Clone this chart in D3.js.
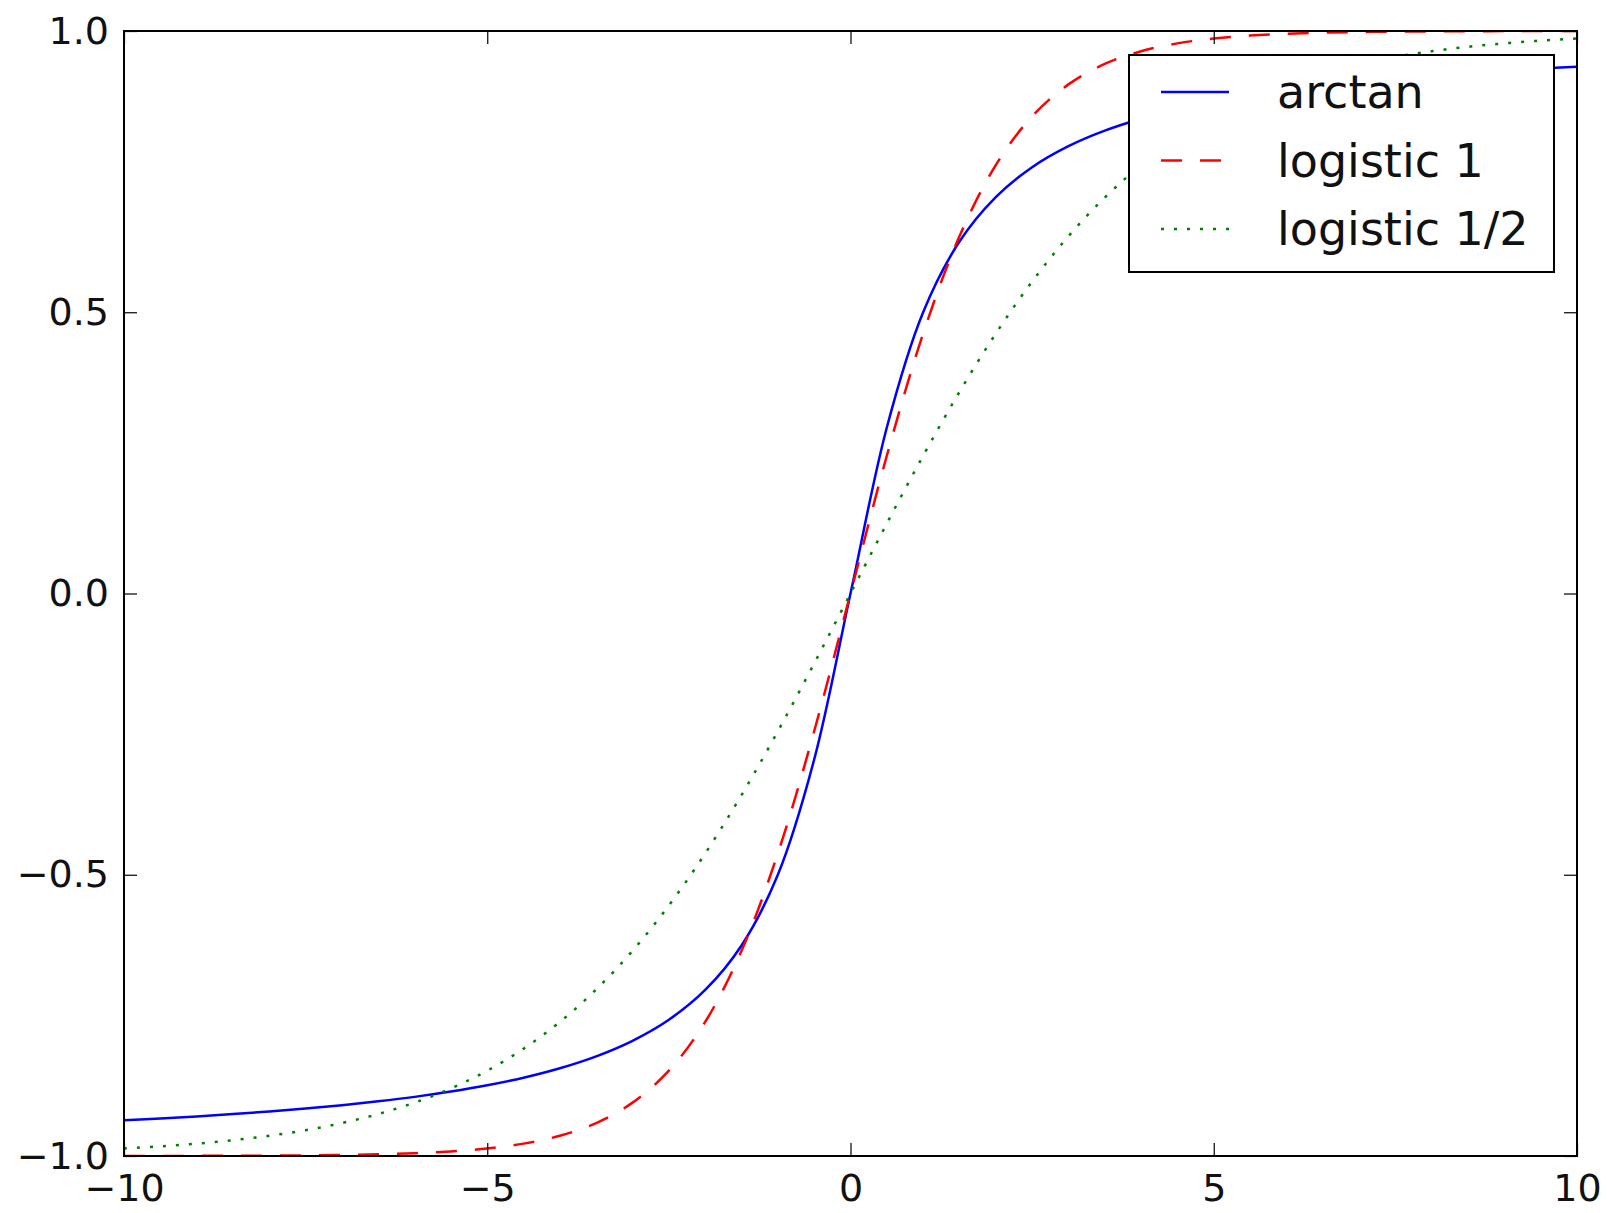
<!DOCTYPE html>
<html>
<head>
<meta charset="utf-8">
<script src="https://cdn.jsdelivr.net/npm/d3@7"></script>
<style>
  body { margin: 0; background: #fff; }
  svg { display: block; font-family: "DejaVu Sans", sans-serif; }
</style>
</head>
<body>
<svg id="chart" width="1607" height="1213"></svg>
<script>
// sample points
var xValues = [-10, -9.5, -9, -8.5, -8, -7.5, -7, -6.5, -6, -5.5, -5, -4.5, -4, -3.5, -3, -2.5, -2, -1.5, -1, -0.5,
  0, 0.5, 1, 1.5, 2, 2.5, 3, 3.5, 4, 4.5, 5, 5.5, 6, 6.5, 7, 7.5, 8, 8.5, 9, 9.5, 10];

var arctanValues = [-0.9365, -0.9332, -0.9296, -0.9254, -0.9208, -0.9156, -0.9097, -0.9028, -0.8949, -0.8855,
  -0.8743, -0.8608, -0.8440, -0.8228, -0.7952, -0.7578, -0.7048, -0.6257, -0.5, -0.2952,
  0, 0.2952, 0.5, 0.6257, 0.7048, 0.7578, 0.7952, 0.8228, 0.8440, 0.8608,
  0.8743, 0.8855, 0.8949, 0.9028, 0.9097, 0.9156, 0.9208, 0.9254, 0.9296, 0.9332, 0.9365];

var logistic1Values = [-0.9999, -0.9999, -0.9998, -0.9996, -0.9993, -0.9989, -0.9982, -0.9970, -0.9951, -0.9919,
  -0.9866, -0.9780, -0.9640, -0.9414, -0.9051, -0.8483, -0.7616, -0.6351, -0.4621, -0.2449,
  0, 0.2449, 0.4621, 0.6351, 0.7616, 0.8483, 0.9051, 0.9414, 0.9640, 0.9780,
  0.9866, 0.9919, 0.9951, 0.9970, 0.9982, 0.9989, 0.9993, 0.9996, 0.9998, 0.9999, 0.9999];

var logistic2Values = [-0.9866, -0.9829, -0.9780, -0.9719, -0.9640, -0.9541, -0.9414, -0.9254, -0.9051, -0.8799,
  -0.8483, -0.8093, -0.7616, -0.7039, -0.6351, -0.5546, -0.4621, -0.3584, -0.2449, -0.1244,
  0, 0.1244, 0.2449, 0.3584, 0.4621, 0.5546, 0.6351, 0.7039, 0.7616, 0.8093,
  0.8483, 0.8799, 0.9051, 0.9254, 0.9414, 0.9541, 0.9640, 0.9719, 0.9780, 0.9829, 0.9866];

var seriesNames = ["arctan", "logistic 1", "logistic 1/2"];
var xTicks = [-10, -5, 0, 5, 10];
var yTicks = [-1.0, -0.5, 0.0, 0.5, 1.0];

var series = [
  {name: seriesNames[0], values: arctanValues, color: "#0000ff", dash: null},
  {name: seriesNames[1], values: logistic1Values, color: "#ff0000", dash: "21,18"},
  {name: seriesNames[2], values: logistic2Values, color: "#008000", dash: "3,10"}
];

var svg = d3.select("#chart");
// plot box edges (window.top is reserved, so use own names)
var plotLeft = 124, plotRight = 1577, plotTop = 31, plotBottom = 1156;

var x = d3.scaleLinear().domain([-10, 10]).range([plotLeft, plotRight]);
var y = d3.scaleLinear().domain([-1, 1]).range([plotBottom, plotTop]);

svg.append("defs").append("clipPath").attr("id", "plotclip")
  .append("rect")
    .attr("x", plotLeft).attr("y", plotTop)
    .attr("width", plotRight - plotLeft).attr("height", plotBottom - plotTop);

// curves
var line = d3.line()
    .x(function(d) { return x(d[0]); })
    .y(function(d) { return y(d[1]); })
    .curve(d3.curveCatmullRom.alpha(0.5));

svg.append("g").attr("clip-path", "url(#plotclip)")
  .selectAll("path")
  .data(series)
  .enter().append("path")
    .attr("fill", "none")
    .attr("stroke", function(d) { return d.color; })
    .attr("stroke-width", 2.5)
    .attr("stroke-dasharray", function(d) { return d.dash; })
    .attr("d", function(d) {
      return line(xValues.map(function(v, i) { return [v, d.values[i]]; }));
    });

// axes, ticks point inward on all four sides
var fmtX = d3.format("d"), fmtY = d3.format(".1f");

function styleAxis(g) {
  g.select(".domain").remove();
  g.selectAll(".tick line").attr("stroke", "#000").attr("stroke-width", 1.2);
  g.selectAll(".tick text")
    .attr("fill", "#111")
    .style("font-size", "38px")
    .style("font-family", "'DejaVu Sans', sans-serif");
}

svg.append("g")
  .attr("transform", "translate(0," + plotBottom + ")")
  .call(d3.axisBottom(x).tickValues(xTicks).tickFormat(fmtX).tickSize(-13).tickPadding(18))
  .call(styleAxis);

svg.append("g")
  .attr("transform", "translate(0," + plotTop + ")")
  .call(d3.axisTop(x).tickValues(xTicks).tickFormat("").tickSize(-13))
  .call(styleAxis);

svg.append("g")
  .attr("transform", "translate(" + plotLeft + ",0)")
  .call(d3.axisLeft(y).tickValues(yTicks).tickFormat(fmtY).tickSize(-13).tickPadding(15))
  .call(styleAxis);

svg.append("g")
  .attr("transform", "translate(" + plotRight + ",0)")
  .call(d3.axisRight(y).tickValues(yTicks).tickFormat("").tickSize(-13))
  .call(styleAxis);

// frame
svg.append("rect")
  .attr("x", plotLeft).attr("y", plotTop)
  .attr("width", plotRight - plotLeft).attr("height", plotBottom - plotTop)
  .attr("fill", "none")
  .attr("stroke", "#000")
  .attr("stroke-width", 2);

// legend
var legend = svg.append("g").attr("class", "legend");
legend.append("rect")
  .attr("x", 1129).attr("y", 55)
  .attr("width", 425).attr("height", 217)
  .attr("fill", "#fff")
  .attr("stroke", "#000")
  .attr("stroke-width", 2);

var row = legend.selectAll("g.row")
  .data(series)
  .enter().append("g")
    .attr("class", "row")
    .attr("transform", function(d, i) { return "translate(0," + (92 + i * 68.5) + ")"; });

row.append("line")
  .attr("x1", 1161).attr("x2", 1229)
  .attr("stroke", function(d) { return d.color; })
  .attr("stroke-width", 2.5)
  .attr("stroke-dasharray", function(d) { return d.dash; });

row.append("text")
  .attr("x", 1277)
  .attr("dy", "0.35em")
  .attr("fill", "#111")
  .style("font-size", "46px")
  .text(function(d) { return d.name; });
</script>
</body>
</html>
